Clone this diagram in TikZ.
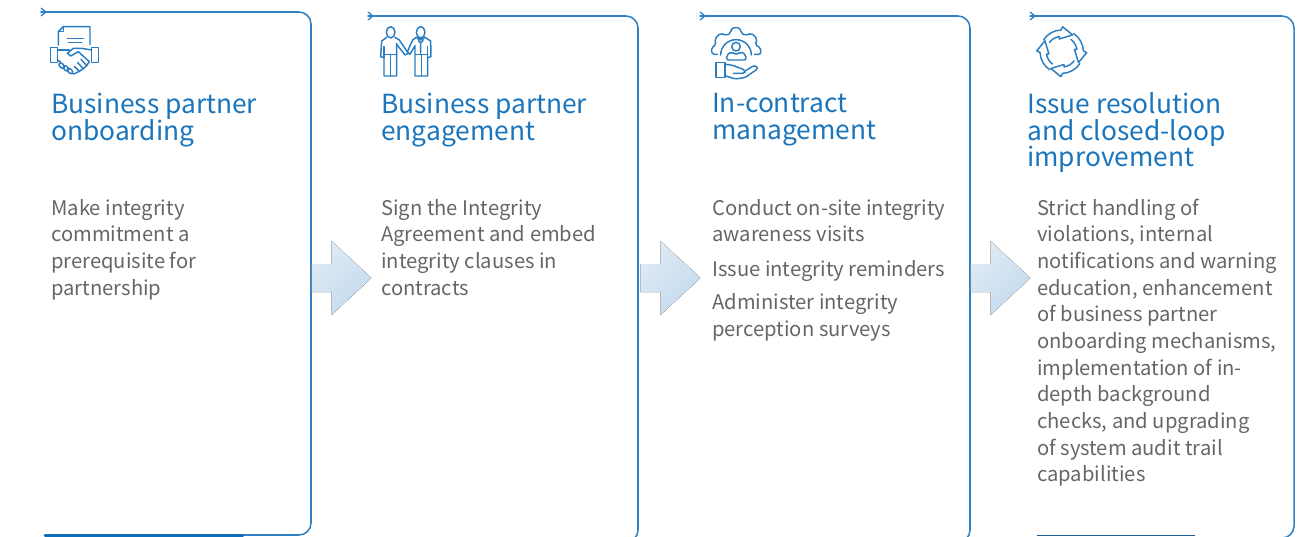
\documentclass[tikz,border=0pt]{standalone}
\usepackage{fontspec}
\setmainfont{Noto Sans CJK SC}
\setlength{\lineskiplimit}{-30pt}
\setlength{\normallineskiplimit}{-30pt}
\definecolor{titleblue}{HTML}{1B75BC}
\definecolor{linkblue}{HTML}{2F80C4}
\definecolor{bodygray}{HTML}{666666}
\definecolor{iconblue}{HTML}{2A7DC0}
\definecolor{barblue}{HTML}{0F6CB6}
\definecolor{barsteel}{HTML}{1F5F99}
\definecolor{arrowlight}{HTML}{DFEAF5}
\definecolor{arrowdark}{HTML}{C4DAED}
\tikzset{
  x=0.75pt,y=-0.75pt,
  cardline/.style={draw=linkblue,line width=1.15pt,rounded corners=9pt,line cap=round},
  chev/.style={draw=linkblue,line width=0.9pt},
  icon/.style={draw=iconblue,line width=1.1pt,line join=round,line cap=round},
  titletext/.style={anchor=north west,inner sep=0pt,align=left,text=titleblue,font=\fontsize{19.75pt}{19.9pt}\selectfont},
  bodytext/.style={anchor=north west,inner sep=0pt,align=left,text=bodygray,font=\fontsize{15.15pt}{20pt}\selectfont},
  flowarrow/.style={draw=none,left color=arrowlight,right color=arrowdark,shading angle=45},
}
\newcommand{\flowshape}[1]{%
  \fill[flowarrow,shift={(#1,0)}] (0,264) -- (20,264) -- (20,241) -- (60,278) -- (20,315) -- (20,292) -- (0,292) -- cycle;}
\begin{document}
\begin{tikzpicture}
\useasboundingbox (0,0) rectangle (1312,536);
\clip (0,0) rectangle (1312,536);
% card frames
\coordinate (a1) at (41,12); \coordinate (b1) at (311,12); \coordinate (c1) at (311,535); \coordinate (d1) at (230,535);
\coordinate (a2) at (368,16); \coordinate (b2) at (638,16); \coordinate (c2) at (638,542); \coordinate (d2) at (600,542);
\coordinate (a3) at (700,16); \coordinate (b3) at (970,16); \coordinate (c3) at (970,542); \coordinate (d3) at (930,542);
\coordinate (a4) at (1030,16); \coordinate (b4) at (1294,16); \coordinate (c4) at (1294,538); \coordinate (d4) at (1260,538);
\draw[cardline] (a1) -- (b1) -- (c1) -- (d1);
\draw[cardline] (a2) -- (b2) -- (c2) -- (d2);
\draw[cardline] (a3) -- (b3) -- (c3) -- (d3);
\draw[cardline] (a4) -- (b4) -- (c4) -- (d4);
\foreach \n in {1,2,3,4} {\draw[chev] ([shift={(0,-4)}]a\n) -- ([shift={(5,0)}]a\n) -- ([shift={(0,4)}]a\n);}
% bottom bars
\coordinate (e1) at (45,535.5); \coordinate (f1) at (243,535.5);
\coordinate (e4) at (1037,535.5); \coordinate (f4) at (1195,535.5);
\draw[barblue,line width=2pt,line cap=round] (e1) -- (f1);
\draw[barsteel,line width=1pt] (e4) -- (f4);
% arrows
\flowshape{311.5}
\flowshape{640.5}
\flowshape{970.5}
% icon 1
\begin{scope}[icon,shift={(30,0)},scale=1/3]
\draw (85,135) -- (85,95) -- (100,80) -- (180,80) -- (180,135);
\draw (100,80) -- (100,95) -- (85,95);
\draw (112,115) -- (160,115) (115,127) -- (155,127);
\draw (62,142) rectangle (82,187) (185,142) rectangle (205,187);
\draw (82,150) -- (118,150);
\draw (185,150) -- (155,145) -- (130,145) -- (112,160) -- (122,168) -- (145,155) -- (178,185) -- (170,197);
\draw (82,180) -- (92,186);
\foreach \px/\py in {95/197,108/205,120/213}
  {\draw[rotate around={-45:(\px,\py)}] (\px,\py) ellipse[x radius=10,y radius=6];}
\draw (170,197) -- (153,178) (160,206) -- (143,188) (148,214) -- (133,199);
\draw (170,197) -- (160,206) -- (148,214) -- (132,222) -- (125,219);
\end{scope}
% icon 2
\begin{scope}[icon,shift={(360,5)},scale=1/3]
\draw (92,82) ellipse[x radius=13,y radius=17] (182,82) ellipse[x radius=13,y radius=17];
\draw (80,97) -- (65,108) -- (62,155) -- (72,158) -- (72,213) -- (110,213) -- (110,115);
\draw (105,97) -- (118,105) -- (145,145) -- (135,150) -- (110,118);
\draw (72,148) -- (110,148) (91,150) -- (91,213) (72,125) -- (72,158);
\draw (168,97) -- (158,105) -- (142,140) -- (150,148) -- (165,122) -- (165,213) -- (203,213) -- (203,158) -- (213,155) -- (212,108) -- (195,97);
\draw (165,148) -- (203,148) (184,150) -- (184,213) (203,125) -- (203,158);
\draw (168,97) -- (182,105) -- (195,97);
\draw (182,105) circle[radius=7] (182,112) -- (182,145);
\end{scope}
% icon 3
\begin{scope}[icon,shift={(690,5)},scale=1/3]
\draw[rounded corners=1.5pt] (82,148) -- (66,148) -- (64,128) -- (78,120) -- (74,102) -- (92,84) -- (108,92) -- (122,84) -- (125,68) -- (150,68) -- (153,84) -- (168,92) -- (184,84) -- (202,102) -- (195,120) -- (212,128) -- (212,148) -- (193,148);
\draw (92,150) arc[start angle=180,end angle=360,radius=46];
\draw (138,125) circle[radius=13];
\draw[rounded corners=1.5pt] (110,165) -- (110,150) -- (125,140) -- (138,150) -- (152,140) -- (168,150) -- (168,165) -- cycle;
\draw (78,173) rectangle (105,218);
\draw[rounded corners=2pt] (105,178) -- (125,180) -- (165,195) -- (165,205) -- (130,205);
\draw[rounded corners=2pt] (165,198) -- (195,180) -- (205,190) -- (165,218) -- (135,222) -- (105,212);
\end{scope}
% icon 4
\foreach \rr in {0,90,180,270} {
\begin{scope}[icon,shift={(1061.7,51.7)},rotate=\rr]
\draw (-147:21.7) arc[start angle=-147,end angle=-92,radius=21.7] -- (-88:25) -- (-57:20) -- (-100:13) -- (-99:15.4) arc[start angle=-99,end angle=-143,radius=15.4];
\end{scope}
}
% titles
\node[titletext] (t1) at (51,93) {Business partner\\onboarding};
\node[titletext] (t2) at (381,93) {Business partner\\engagement};
\node[titletext] (t3) at (712,93) {In-contract\\management};
\node[titletext] (t4) at (1027,92.5) {Issue resolution\\and closed-loop\\improvement};
% bodies
\node[bodytext] (p1) at (51,198.7) {Make integrity\\commitment a\\prerequisite for\\partnership};
\node[bodytext] (p2) at (381,198.7) {Sign the Integrity\\Agreement and embed\\integrity clauses in\\contracts};
\node[bodytext] (p3a) at (712,198.7) {Conduct on-site integrity\\awareness visits};
\node[bodytext] (p3b) at (712,259.7) {Issue integrity reminders};
\node[bodytext] (p3c) at (712,293.5) {Administer integrity\\perception surveys};
\node[bodytext] (p4) at (1037,198.7) {Strict handling of\\violations, internal\\notifications and warning\\education, enhancement\\of business partner\\onboarding mechanisms,\\implementation of in-\\depth background\\checks, and upgrading\\of system audit trail\\capabilities};
\end{tikzpicture}
\end{document}
